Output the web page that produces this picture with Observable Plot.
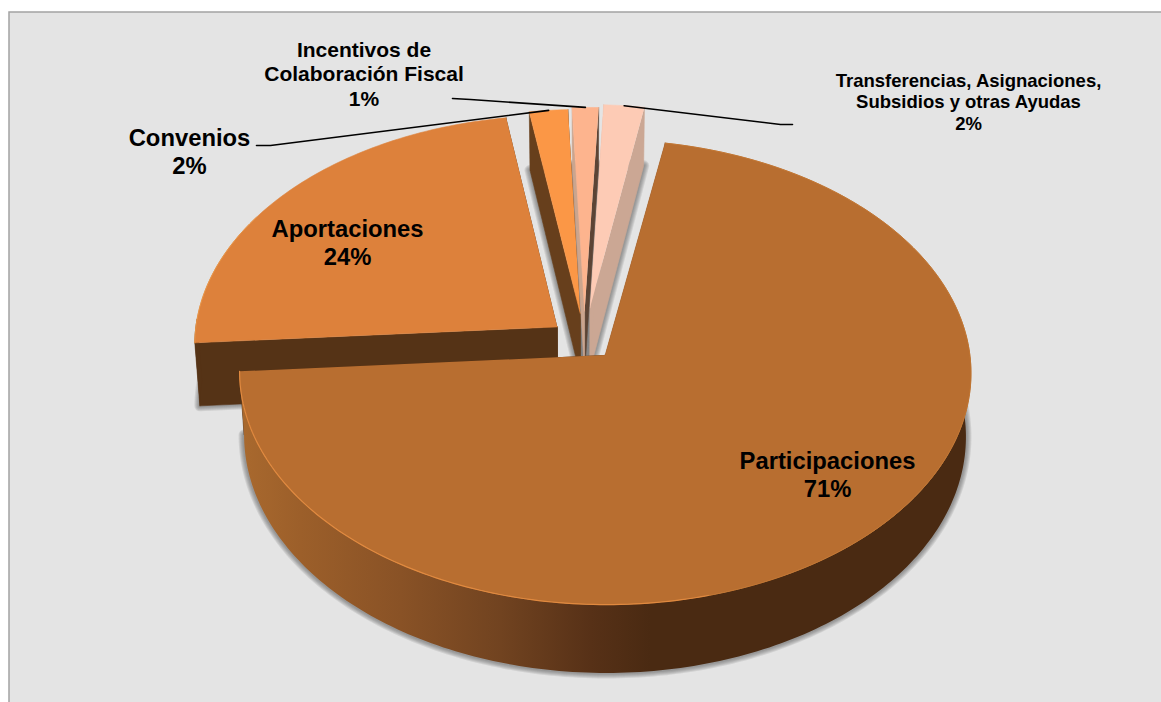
<!DOCTYPE html>
<html>
<head>
<meta charset="utf-8">
<style>html,body{margin:0;padding:0;background:#fff}svg{display:block}</style>
<script src="https://cdn.jsdelivr.net/npm/d3@7"></script>
<script src="https://cdn.jsdelivr.net/npm/@observablehq/plot@0.6"></script>
</head>
<body>
<script>
// Data
const categories = ["Participaciones", "Aportaciones", "Convenios", "Incentivos de\nColaboración Fiscal", "Transferencias, Asignaciones,\nSubsidios y otras Ayudas"];
const shares = [71, 23.6, 1.9, 1.3, 2.0];

// Styling
const topColors = ["#b86e30", "#dd813b", "#fb9746", "#fdb48e", "#fdcbb5"];
const leftWall = ["#4a2a12", "#553316", "#673f1c", "#5c4435", "#cba794"];
const rightWall = ["#4a2a12", "#553316", "#673f1c", "#cba58e", "#cba794"];
const explode = [0.085, 0.096, 0.12, 0.13, 0.145];
const radius = [1, 1, 0.97, 0.97, 0.97];
const labelAnchor = [[827, 473.5], [347, 241.5], [189, 150.5], [363.5, 73], [968, 101]];
const labelSize = [23.8, 23.8, 23.8, 21, 18.5];
const labelLead = [1.18, 1.18, 1.18, 1.16, 1.16];
const leaderLabelEnd = [null, null, [[256, 145], [270, 145]], [[452, 98], [470, 99]], [[792, 124], [780, 124]]];
const shadowWidths = [11, 9, 7, 5, 3];

// Projection of the tilted pie into the page
const view = {cx: 584, cy: 340, rx: 363, ry: 229, k: 0.0734, depth: 63, taper: 0.013, start: 10.4};
const rad = d => d * Math.PI / 180;
function project(theta, r, e, mid, z) {
  const u = r * Math.sin(rad(theta)) + e * Math.sin(rad(mid));
  const v = r * Math.cos(rad(theta)) + e * Math.cos(rad(mid));
  const w = 1 + view.k * v;
  return {x: view.cx + view.rx * u * (1 - view.taper * z) / w, y: view.cy - view.ry * v / w + view.depth * z / w};
}

// Angular layout from the shares
let acc = view.start;
const slices = shares.map((s, i) => {
  const a0 = acc, a1 = acc + s / 100 * 360;
  acc = a1;
  return {i, a0, a1, mid: (a0 + a1) / 2, e: explode[i], r: radius[i]};
});
const rimPoint = (s, t, z) => project(t, s.r, s.e, s.mid, z);
const arc = (s, z, from = s.a0, to = s.a1) => {
  const n = Math.max(2, Math.ceil(Math.abs(to - from)));
  return d3.range(n + 1).map(j => rimPoint(s, from + (to - from) * j / n, z));
};
const apex = (s, z) => project(0, 0, s.e, s.mid, z);
const poly = (pts, color, extra = {}) => Plot.line(pts, {x: "x", y: "y", fill: color, stroke: color, strokeWidth: 0.6, ...extra});

// horizontal sheen of the outer wall
const wallStops = [[240, "#a9692e"], [300, "#9c5f2a"], [400, "#895226"], [500, "#714320"], [590, "#573117"], [650, "#4a2a12"], [975, "#4a2a12"]];
const defs = () => {
  const d = d3.create("svg:defs");
  const g = d.append("linearGradient").attr("id", "wall").attr("gradientUnits", "userSpaceOnUse")
    .attr("x1", wallStops[0][0]).attr("x2", wallStops[wallStops.length - 1][0]).attr("y1", 0).attr("y2", 0);
  const span = wallStops[wallStops.length - 1][0] - wallStops[0][0];
  wallStops.forEach(([x, c]) => g.append("stop").attr("offset", (x - wallStops[0][0]) / span).attr("stop-color", c));
  return d.node();
};

const marks = [defs, Plot.frame({fill: "#e4e4e4", stroke: "#a3a3a3", strokeWidth: 1.5, insetLeft: 8.5, insetTop: 11.5, insetRight: -3, insetBottom: -3})];

// soft shadow under each floor, built from stacked translucent outlines
slices.forEach(s => {
  const outline = [apex(s, 1), ...arc(s, 1), apex(s, 1)];
  shadowWidths.forEach(w => marks.push(Plot.line(outline, {x: "x", y: "y", stroke: "#4a4a4a", strokeOpacity: 0.13, strokeWidth: w, strokeLinejoin: "round"})));
});

// painter's order: back slices first
[2, 4, 3, 1, 0].forEach(i => {
  const s = slices[i];
  marks.push(poly([rimPoint(s, s.a1, 0), rimPoint(s, s.a1, 1), apex(s, 1), apex(s, 0)], leftWall[i]));
  marks.push(poly([rimPoint(s, s.a0, 0), rimPoint(s, s.a0, 1), apex(s, 1), apex(s, 0)], rightWall[i]));
  if (i === 0) {
    const from = Math.max(s.a0, 85);
    marks.push(poly([...arc(s, 0, from, s.a1), ...arc(s, 1, from, s.a1).reverse()], "url(#wall)", {stroke: "none"}));
  }
  if (i === 1) marks.push(poly([...arc(s, 0, s.a0, 272), ...arc(s, 1, s.a0, 272).reverse()], leftWall[1]));
  marks.push(poly([apex(s, 0), ...arc(s, 0)], topColors[i]));
  if (i === 0) {
    marks.push(Plot.line(arc(s, 0, s.a0, 165), {x: "x", y: "y", stroke: "#c27632", strokeWidth: 1}));
    marks.push(Plot.line(arc(s, 0, 165, s.a1), {x: "x", y: "y", stroke: "#e0893f", strokeWidth: 1.2}));
  }
  if (i === 1) marks.push(Plot.line(arc(s, 0, s.a0, 300), {x: "x", y: "y", stroke: "#e89445", strokeWidth: 1}));
});

// leader lines
slices.forEach(s => {
  const end = leaderLabelEnd[s.i];
  if (!end) return;
  marks.push(Plot.line([...end.map(([x, y]) => ({x, y})), rimPoint(s, s.mid, 0)], {x: "x", y: "y", stroke: "#000", strokeWidth: 1.6}));
});

// labels
slices.forEach(s => {
  const [x, y] = labelAnchor[s.i];
  marks.push(Plot.text([`${categories[s.i]}\n${Math.round(shares[s.i])}%`], {
    x: () => x, y: () => y, text: d => d,
    fontFamily: "Liberation Sans, Arial, sans-serif", fontWeight: 700,
    fontSize: labelSize[s.i], lineHeight: labelLead[s.i], fill: "#000", textAnchor: "middle", lineAnchor: "middle"
  }));
});

document.body.append(Plot.plot({
  width: 1161, height: 702, margin: 0,
  x: {domain: [0, 1161], range: [0, 1161], axis: null},
  y: {domain: [0, 702], range: [0, 702], axis: null},
  marks
}));
</script>
</body>
</html>
